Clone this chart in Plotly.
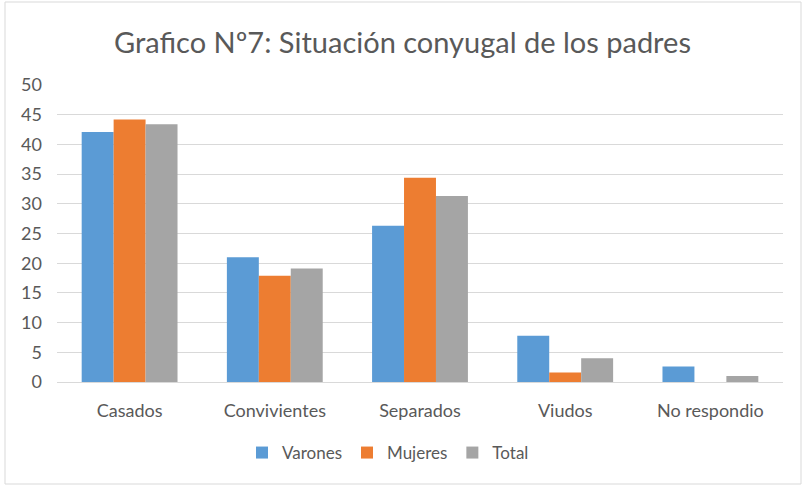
import plotly.graph_objects as go

categories = ["Casados", "Convivientes", "Separados", "Viudos", "No respondio"]
varones = [42.1, 21.0, 26.3, 7.8, 2.6]
mujeres = [44.2, 17.9, 34.4, 1.6, 0]
total = [43.4, 19.1, 31.3, 4.0, 1.0]
y_ticks = [0, 5, 10, 15, 20, 25, 30, 35, 40, 45, 50]

FONT = "Lato"
TXT = "#595959"

fig = go.Figure()
for name, vals, col in [("Varones", varones, "#5B9BD5"),
                        ("Mujeres", mujeres, "#ED7D31"),
                        ("Total", total, "#A5A5A5")]:
    fig.add_trace(go.Bar(x=categories, y=vals, name=name, marker_color=col,
                         marker_line_width=0))

L, R, T, B = 57, 22, 85, 105
W, H = 805, 487
pw, ph = W - L - R, H - T - B

fig.update_layout(
    width=W, height=H,
    margin=dict(l=L, r=R, t=T, b=B, autoexpand=False),
    paper_bgcolor="white", plot_bgcolor="white",
    font=dict(family=FONT, size=17, color=TXT),
    title=dict(text="Grafico Nº7: Situación conyugal de los padres",
               x=0.5, xanchor="center", y=1 - 43 / H, yanchor="middle",
               font=dict(family=FONT, size=29, color=TXT)),
    barmode="group", bargap=0.34, bargroupgap=0,
    showlegend=True,
    legend=dict(orientation="h", xref="container", x=388 / W, xanchor="center",
                yref="container", y=1 - 453 / H, yanchor="middle",
                font=dict(family=FONT, size=17, color=TXT),
                itemwidth=30, traceorder="normal"),
    xaxis=dict(showgrid=False, showline=True, linecolor="#D9D9D9", linewidth=1,
               ticks="", tickfont=dict(size=18, color=TXT), ticklabelstandoff=12),
    yaxis=dict(range=[0, 50], tickvals=y_ticks, showgrid=True,
               gridcolor="#D9D9D9", gridwidth=1, zeroline=False,
               ticks="", tickfont=dict(size=18, color=TXT), ticklabelstandoff=14),
    shapes=[dict(type="rect", xref="paper", yref="paper",
                 x0=(5 - L) / pw, x1=(801 - L) / pw,
                 y0=-(484 - (T + ph)) / ph, y1=(T + ph - 2) / ph,
                 line=dict(color="#D9D9D9", width=1), fillcolor="rgba(0,0,0,0)",
                 layer="below")],
)

fig.write_html("out.html", config={"displayModeBar": False},
               post_script="document.body.style.margin='0';document.body.style.overflow='hidden';")
